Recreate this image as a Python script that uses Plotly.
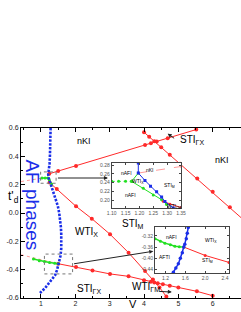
import plotly.graph_objects as go

# ---------------- data ----------------
# blue AF-phase boundary (V, t'_d)
af_V = [1.28, 1.28, 1.27, 1.27, 1.26, 1.25, 1.22, 1.21, 1.22, 1.26, 1.31, 1.37, 1.43, 1.49, 1.53,
        1.56, 1.58, 1.59, 1.60, 1.59, 1.57, 1.53, 1.47, 1.41, 1.26, 1.12, 0.97]
af_t = [0.60, 0.55, 0.50, 0.45, 0.40, 0.35, 0.30, 0.27, 0.25, 0.22, 0.18, 0.14, 0.10, 0.05, 0.00,
        -0.05, -0.10, -0.15, -0.20, -0.25, -0.30, -0.35, -0.40, -0.44, -0.49, -0.53, -0.565]

# red boundary a (rising, upper)
ra_V = [1.24, 1.50, 2.02, 4.03, 4.20, 4.37, 4.69, 5.52]
ra_t = [0.277, 0.296, 0.332, 0.480, 0.493, 0.505, 0.528, 0.589]
# red boundary b (falling, upper right)
rb_V = [4.00, 4.15, 4.30, 4.50, 4.75, 5.05, 5.55, 6.00, 6.50, 7.00]
rb_t = [0.570, 0.538, 0.506, 0.464, 0.411, 0.347, 0.244, 0.150, 0.040, -0.070]
# red boundary c (falling, middle)
rc_V = [1.25, 1.46, 2.02, 2.48, 3.01, 3.55, 4.03, 4.26, 4.45, 4.65]
rc_t = [0.215, 0.170, 0.047, -0.040, -0.150, -0.280, -0.410, -0.470, -0.525, -0.590]
# red boundary d (lower)
rd_V = [1.50, 2.02, 2.50, 3.01, 3.55, 4.00, 4.20, 4.30, 4.40, 4.55, 4.75, 5.00, 5.54, 6.00]
rd_t = [-0.358, -0.381, -0.405, -0.430, -0.447, -0.475, -0.485, -0.490, -0.495, -0.503, -0.513,
        -0.526, -0.553, -0.584]
# pale dashed extensions
pu_V = [0.42, 1.05]
pu_t = [0.222, 0.247]
pl_V = [0.42, 1.50]
pl_t = [-0.295, -0.358]
# green boundaries
gu_V = [1.03, 1.12, 1.20, 1.24, 1.31]
gu_t = [0.247, 0.247, 0.247, 0.235, 0.205]
gl_V = [0.78, 0.95, 1.10, 1.25, 1.40, 1.50]
gl_t = [-0.325, -0.337, -0.343, -0.350, -0.355, -0.358]

# zoom boxes (V0, V1, t0, t1) and link arrows (from V, t -> to V, t)
box1 = [0.99, 1.44, 0.21, 0.29]
box2 = [1.10, 1.92, -0.43, -0.29]
link1 = [1.45, 0.247, 2.95, 0.247]
link2 = [1.92, -0.36, 4.27, -0.27]

# inset 1 (upper)
i1_blue_x = [1.196, 1.196, 1.22, 1.24, 1.262, 1.28, 1.292, 1.322]
i1_blue_y = [0.285, 0.262, 0.245, 0.232, 0.219, 0.207, 0.197, 0.182]
i1_gh_x = [1.10, 1.125, 1.15, 1.172]
i1_gh_y = [0.243, 0.243, 0.243, 0.243]
i1_gup_x = [1.172, 1.196]
i1_gup_y = [0.243, 0.262]
i1_glo_x = [1.172, 1.214, 1.25, 1.28, 1.298]
i1_glo_y = [0.243, 0.227, 0.212, 0.201, 0.190]
i1_rup_x = [1.196, 1.35]
i1_rup_y = [0.262, 0.277]
i1_rlo_x = [1.285, 1.31, 1.35]
i1_rlo_y = [0.197, 0.191, 0.183]
i1_xt = [1.10, 1.15, 1.20, 1.25, 1.30, 1.35]
i1_yt = [0.20, 0.22, 0.24, 0.26, 0.28]

# inset 2 (lower)
i2_blue_x = [1.66, 1.64, 1.62, 1.59, 1.57, 1.54, 1.50, 1.46, 1.41, 1.36, 1.30]
i2_blue_y = [-0.29, -0.31, -0.33, -0.35, -0.36, -0.38, -0.40, -0.42, -0.435, -0.45, -0.46]
i2_green_x = [0.99, 1.10, 1.19, 1.30, 1.39, 1.48, 1.57]
i2_green_y = [-0.330, -0.339, -0.346, -0.352, -0.357, -0.359, -0.360]
i2_red_x = [1.57, 2.00, 2.48]
i2_red_y = [-0.360, -0.390, -0.415]
i2_xt = [1.2, 1.6, 2.0, 2.4]
i2_yt = [-0.44, -0.40, -0.36, -0.32]

x_ticks = [1, 2, 3, 4, 5, 6]
y_ticks = [-0.6, -0.4, -0.2, 0.0, 0.2, 0.4, 0.6]
y_ticktext = ["-0.6", "-0.4", "-0.2", "0.0", "0.2", "0.4", "0.6"]

# ---------------- figure ----------------
FONT = "Arial, Liberation Sans, sans-serif"
RED = "#ff2a2a"
PALE = "#ff9a9a"
BLUE = "#1a2ee8"
GREEN = "#22e022"

fig = go.Figure()

def red_line(x, y, xa="x", ya="y", color=RED, dash="solid", msize=4, mode="lines+markers"):
    fig.add_trace(go.Scatter(x=x, y=y, mode=mode, xaxis=xa, yaxis=ya,
                             line=dict(color=color, width=1, dash=dash),
                             marker=dict(color=color, size=msize), showlegend=False,
                             hoverinfo="skip"))

# main plot
red_line(pu_V, pu_t, color=PALE, dash="dot", mode="lines")
red_line(pl_V, pl_t, color=PALE, dash="dot", mode="lines")
red_line(ra_V, ra_t)
red_line(rb_V, rb_t)
red_line(rc_V, rc_t)
red_line(rd_V, rd_t)
fig.add_trace(go.Scatter(x=gu_V, y=gu_t, mode="lines+markers", line=dict(color=GREEN, width=1.5),
                         marker=dict(color=GREEN, size=3), showlegend=False))
fig.add_trace(go.Scatter(x=gl_V, y=gl_t, mode="lines+markers", line=dict(color=GREEN, width=1.5),
                         marker=dict(color=GREEN, size=3), showlegend=False))
fig.add_trace(go.Scatter(x=af_V, y=af_t, mode="lines",
                         line=dict(color=BLUE, width=2.6, dash="2.4px,1.4px"),
                         showlegend=False))

# inset 1
fig.add_trace(go.Scatter(x=i1_gh_x, y=i1_gh_y, mode="lines+markers", xaxis="x2", yaxis="y2",
                         line=dict(color=GREEN, width=1, dash="dot"), marker=dict(color=GREEN, size=3),
                         showlegend=False))
for gx, gy in [(i1_gup_x, i1_gup_y), (i1_glo_x, i1_glo_y)]:
    fig.add_trace(go.Scatter(x=gx, y=gy, mode="lines+markers", xaxis="x2", yaxis="y2",
                             line=dict(color=GREEN, width=1), marker=dict(color=GREEN, size=3),
                             showlegend=False))
red_line(i1_rup_x, i1_rup_y, "x2", "y2", color=PALE, dash="dash", msize=2.5)
red_line(i1_rlo_x, i1_rlo_y, "x2", "y2", color=RED, msize=2.5)
fig.add_trace(go.Scatter(x=i1_blue_x, y=i1_blue_y, mode="lines+markers", xaxis="x2", yaxis="y2",
                         line=dict(color=BLUE, width=1), marker=dict(color=BLUE, size=3, symbol="square"),
                         showlegend=False))

# inset 2
red_line(i2_red_x, i2_red_y, "x3", "y3", color=RED, msize=3)
fig.add_trace(go.Scatter(x=i2_green_x, y=i2_green_y, mode="lines+markers", xaxis="x3", yaxis="y3",
                         line=dict(color=GREEN, width=1.5), marker=dict(color=GREEN, size=3),
                         showlegend=False))
fig.add_trace(go.Scatter(x=i2_blue_x, y=i2_blue_y, mode="lines+markers", xaxis="x3", yaxis="y3",
                         line=dict(color=BLUE, width=1.5), marker=dict(color=BLUE, size=3.5),
                         showlegend=False))

# zoom boxes
for b in (box1, box2):
    fig.add_shape(type="rect", xref="x", yref="y", x0=b[0], x1=b[1], y0=b[2], y1=b[3],
                  line=dict(color="#777777", width=1, dash="dot"))

ann = []
def arrow(x0, y0, x1, y1):
    ann.append(dict(x=x1, y=y1, ax=x0, ay=y0, xref="x", yref="y", axref="x", ayref="y",
                    showarrow=True, arrowhead=2, arrowsize=0.8, arrowwidth=1, arrowcolor="#222222",
                    text=""))

for lk in (link1, link2):
    arrow(*lk)

def lab(text, x, y, size=9, xa="x", ya="y", anchor="center", color="black"):
    ann.append(dict(text=text, x=x, y=y, xref=xa, yref=ya, showarrow=False, xanchor=anchor,
                    font=dict(family=FONT, size=size, color=color)))

sub = "<sub>%s</sub>"
lab("nKI", 2.26, 0.505)
lab("nKI", 6.26, 0.376)
lab("STI" + sub % "ΓX", 5.0, 0.515, size=10, anchor="left")
lab("WTI" + sub % "X", 1.94, -0.135, size=10, anchor="left")
lab("STI" + sub % "M", 3.30, -0.08, size=10, anchor="left")
lab("STI" + sub % "ΓX", 1.99, -0.535, size=10, anchor="left")
lab("WTI" + sub % "ΓM", 3.60, -0.525, size=10, anchor="left")
# small pointer arrows
arrow(4.92, 0.52, 4.69, 0.56)
arrow(4.40, -0.553, 4.81, -0.558)
# AF phases
ann.append(dict(text="AF phases", x=0.74, y=0.06, xref="x", yref="y", showarrow=False, textangle=90,
                font=dict(family=FONT, size=19, color=BLUE)))
# axis titles
ann.append(dict(text="t'<sub>d</sub>", x=(6 - 21) / 220, y=(298 - 197) / 170, xref="paper", yref="paper",
                showarrow=False, font=dict(family=FONT, size=12, color="black")))
ann.append(dict(text="V", x=(133 - 21) / 220, y=-0.08, xref="paper", yref="paper", showarrow=False,
                yanchor="bottom", font=dict(family=FONT, size=11, color="black")))

# inset labels
s = 5
lab("nAFI", 1.154, 0.262, s, "x2", "y2")
lab("nKI", 1.238, 0.270, s, "x2", "y2")
lab("WTI" + sub % "X", 1.194, 0.243, s, "x2", "y2")
lab("STI" + sub % "M", 1.31, 0.234, s, "x2", "y2")
lab("nAFI", 1.166, 0.212, s, "x2", "y2")
lab("WTI" + sub % "ΓM", 1.325, 0.186, s, "x2", "y2")
lab("nAFI", 1.32, -0.323, s, "x3", "y3")
lab("WTI" + sub % "X", 2.12, -0.335, s, "x3", "y3")
lab("AFTI", 1.19, -0.396, s, "x3", "y3")
lab("STI" + sub % "M", 2.05, -0.408, s, "x3", "y3")

tickfont = dict(family=FONT, size=7, color="#222222")
inset_tf = dict(family=FONT, size=5, color="#555555")

def inset_axes(rx, ry, tx, ty, dx, dy, xfmt):
    xa = dict(domain=dx, range=rx, tickvals=tx, ticktext=[xfmt % v for v in tx],
              showline=True, linecolor="#444444", linewidth=0.8, mirror="ticks", ticks="inside",
              ticklen=2, tickcolor="#444444", showgrid=False, zeroline=False, tickfont=inset_tf,
              automargin=False)
    ya = dict(domain=dy, range=ry, tickvals=ty, ticktext=["%.2f" % v for v in ty],
              showline=True, linecolor="#444444", linewidth=0.8, mirror="ticks", ticks="inside",
              ticklen=2, tickcolor="#444444", showgrid=False, zeroline=False, tickfont=inset_tf,
              automargin=False)
    return xa, ya

x2, y2 = inset_axes([1.10, 1.35], [0.182, 0.285], i1_xt, i1_yt,
                    [(111.7 - 21) / 220, (181 - 21) / 220], [(298 - 208) / 170, (298 - 163) / 170], "%.2f")
x3, y3 = inset_axes([0.99, 2.48], [-0.453, -0.288], i2_xt, i2_yt,
                    [(155 - 21) / 220, (229 - 21) / 220], [(298 - 273) / 170, (298 - 227) / 170], "%.1f")
x2["anchor"] = "y2"; y2["anchor"] = "x2"
x3["anchor"] = "y3"; y3["anchor"] = "x3"

fig.update_layout(
    template="none",
    width=241, height=312,
    margin=dict(l=21, r=0, t=128, b=14),
    paper_bgcolor="white", plot_bgcolor="white",
    showlegend=False,
    font=dict(family=FONT, color="black"),
    annotations=ann,
    xaxis=dict(range=[0.418, 6.824], tickvals=x_ticks, showline=True, linecolor="black", linewidth=1,
               mirror="ticks", ticks="inside", ticklen=4, tickcolor="black", showgrid=False,
               zeroline=False, tickfont=tickfont, automargin=False, ticklabelstandoff=-1,
               minor=dict(ticks="inside", ticklen=2, dtick=0.5, tickcolor="black")),
    yaxis=dict(range=[-0.6, 0.6], tickvals=y_ticks, ticktext=y_ticktext, showline=True,
               linecolor="black", linewidth=1, ticks="inside", ticklen=4, tickcolor="black",
               showgrid=False, zeroline=False, tickfont=tickfont, automargin=False,
               minor=dict(ticks="inside", ticklen=2, dtick=0.1, tickcolor="black")),
    xaxis2=x2, yaxis2=y2, xaxis3=x3, yaxis3=y3,
)

fig.write_html("out.html", config={"displayModeBar": False},
               post_script="document.body.style.margin='0';document.body.style.padding='0';")
